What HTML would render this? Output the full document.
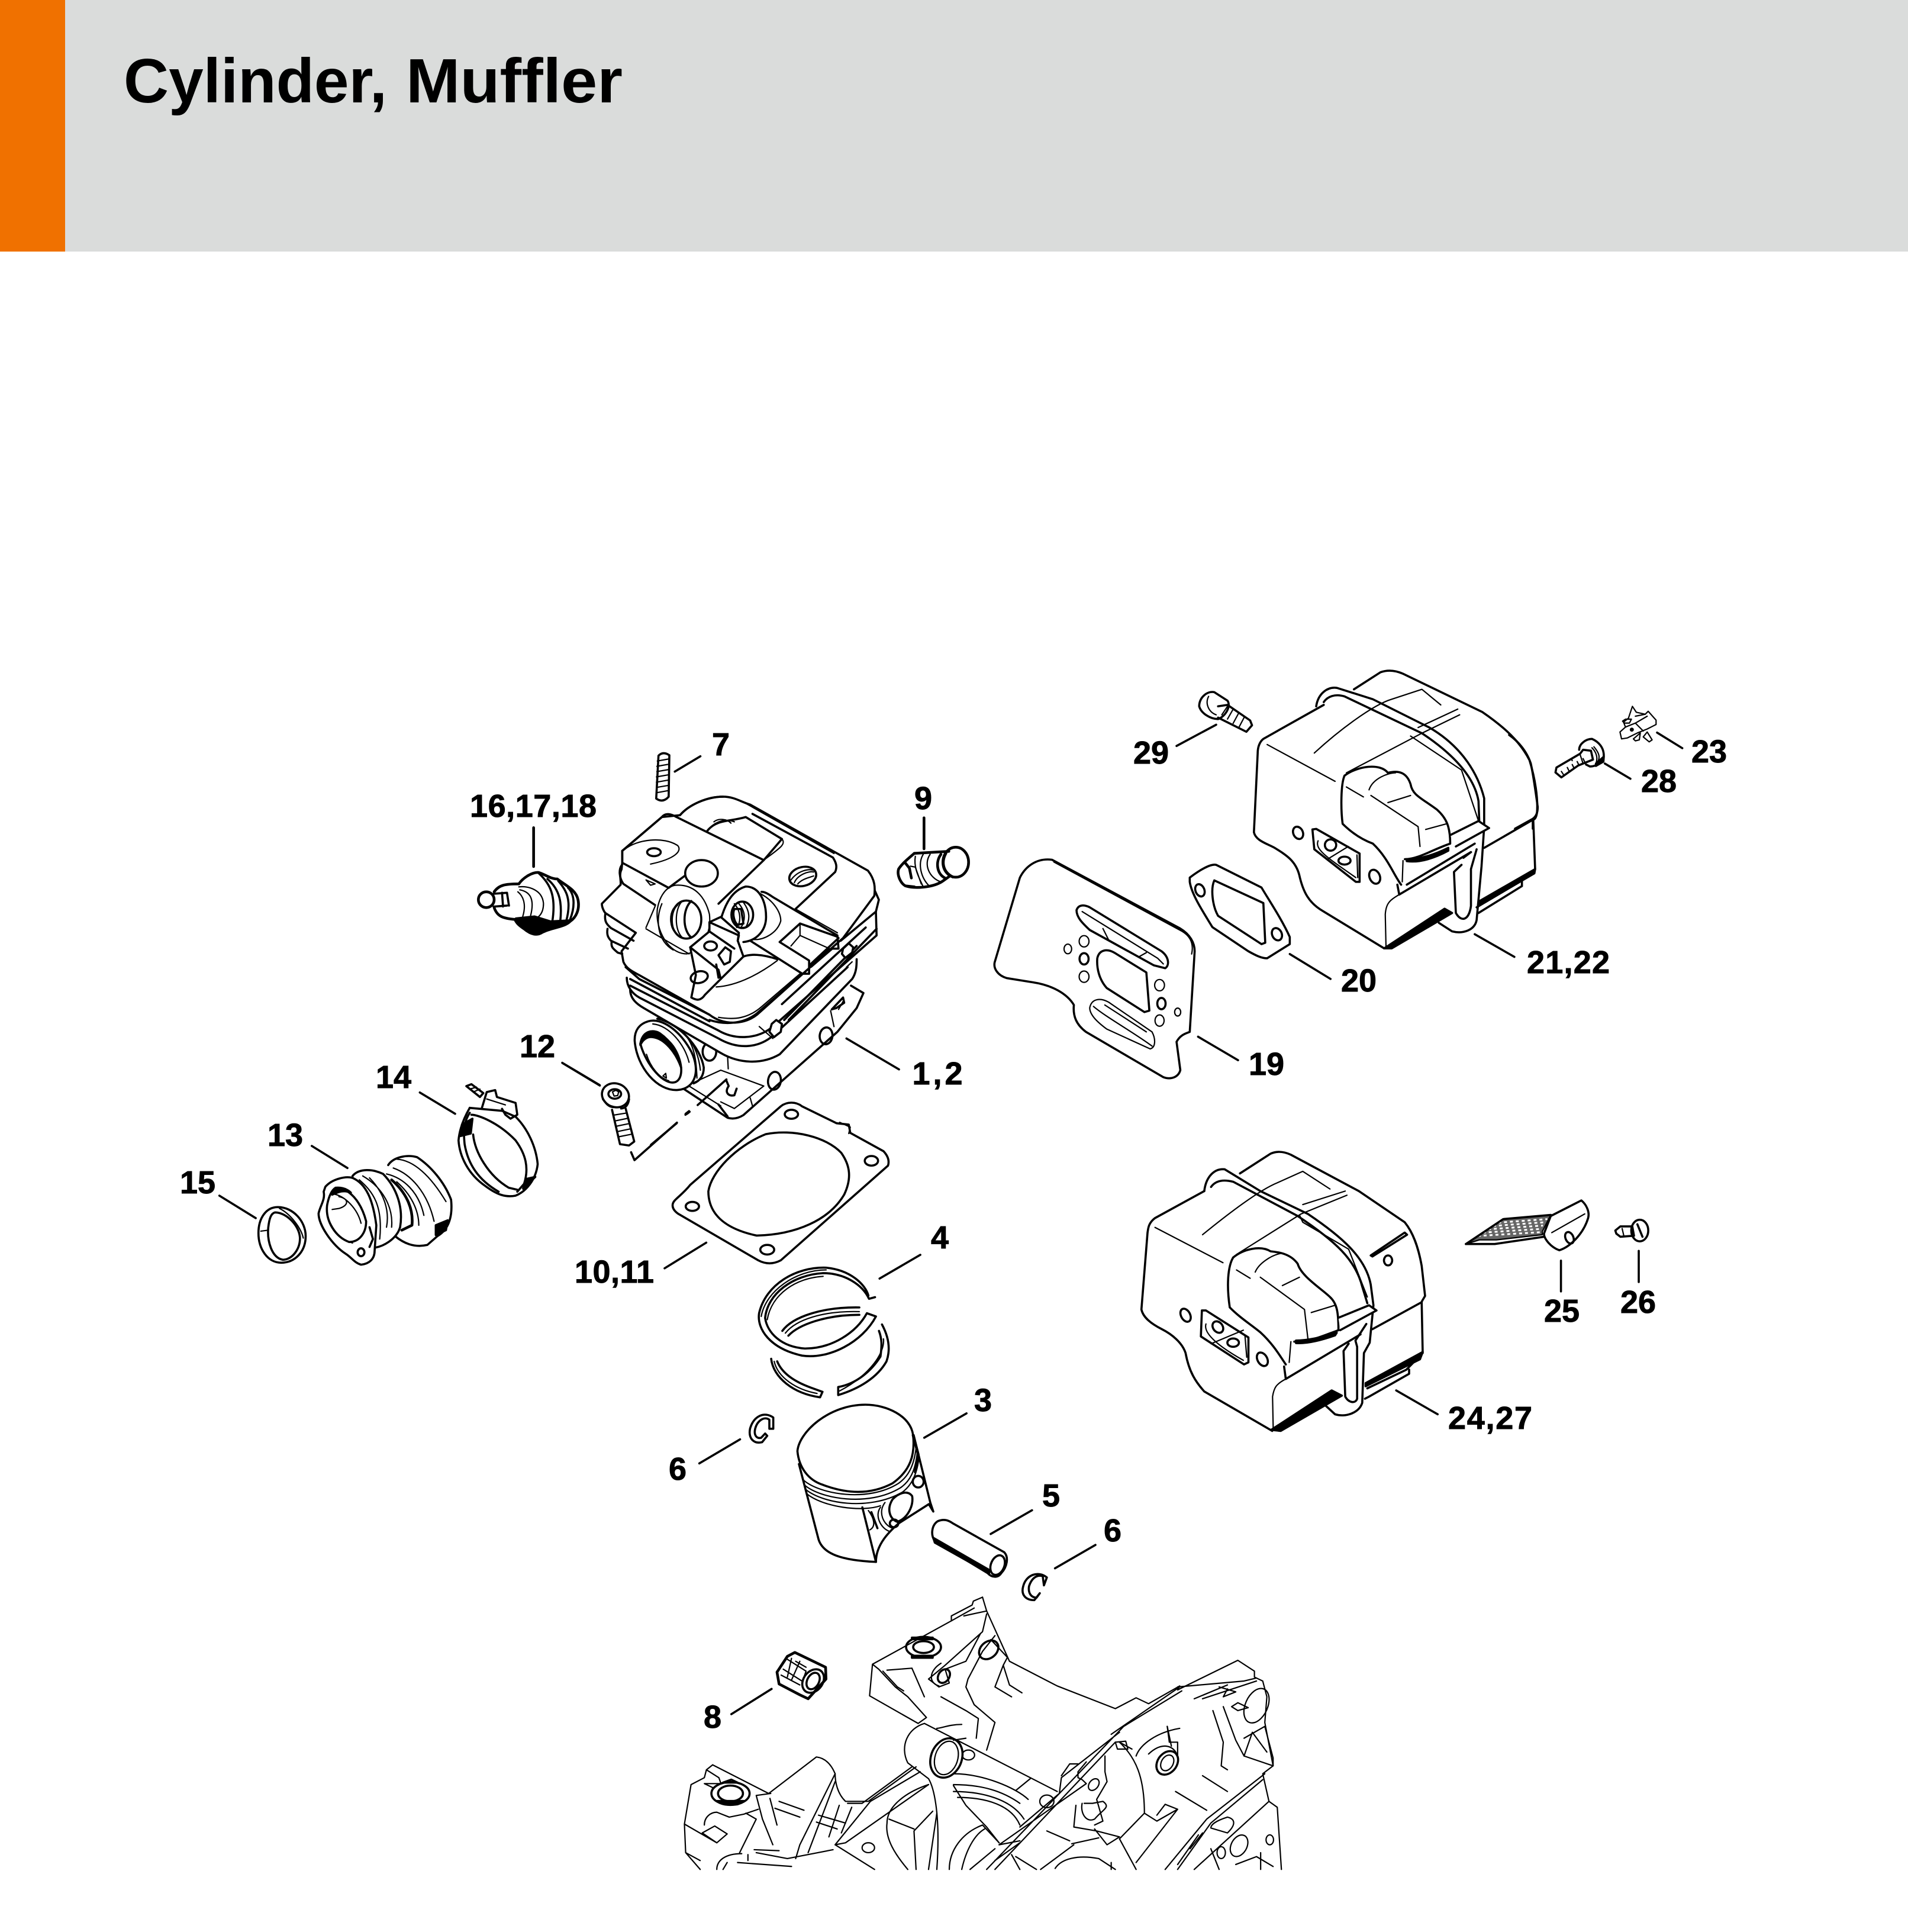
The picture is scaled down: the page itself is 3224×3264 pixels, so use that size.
<!DOCTYPE html>
<html><head><meta charset="utf-8"><title>Cylinder, Muffler</title>
<style>
html,body{margin:0;padding:0;background:#fff}
svg{display:block}
.d *{vector-effect:non-scaling-stroke;fill:none;stroke:#000;stroke-width:3.6;stroke-linejoin:round;stroke-linecap:round}
.d .t{stroke-width:2.2}
.d .b{stroke-width:4.6}
.d .w{fill:#fff}
.d .f{fill:#000}
.d .g{fill:#666;stroke-width:2.2}
.d .m{stroke:#fff;stroke-width:3;stroke-dasharray:5 5;stroke-linecap:butt}
.l text{font-family:"Liberation Sans",sans-serif;font-weight:700;font-size:54px;fill:#000;stroke:#000;stroke-width:.9;text-anchor:middle}
</style></head><body>
<svg width="3224" height="3264" viewBox="0 0 3224 3264" xmlns="http://www.w3.org/2000/svg">
<rect width="3224" height="3264" fill="#fff"/>
<rect width="3224" height="425" fill="#dadcdb"/>
<rect width="110" height="425" fill="#f07100"/>
<text x="209" y="173" font-family="Liberation Sans,sans-serif" font-weight="700" font-size="106" textLength="445" lengthAdjust="spacingAndGlyphs" fill="#000">Cylinder,</text>
<text x="686" y="173" font-family="Liberation Sans,sans-serif" font-weight="700" font-size="106" textLength="366" lengthAdjust="spacingAndGlyphs" fill="#000">Muffler</text>

<g class="l">
<text x="1218" y="1276">7</text>
<text x="901" y="1380" textLength="214">16,17,18</text>
<text x="1560" y="1367">9</text>
<text x="2888" y="1288">23</text>
<text x="2803" y="1338">28</text>
<text x="1945" y="1290">29</text>
<text x="2296" y="1675">20</text>
<text x="2650" y="1644" textLength="140">21,22</text>
<text x="2140" y="1816">19</text>
<text x="1584" y="1832" textLength="85">1,2</text>
<text x="908" y="1786">12</text>
<text x="665" y="1838">14</text>
<text x="482" y="1936">13</text>
<text x="334" y="2016">15</text>
<text x="1038" y="2167" textLength="134">10,11</text>
<text x="1588" y="2109">4</text>
<text x="1661" y="2384">3</text>
<text x="1145" y="2500">6</text>
<text x="1776" y="2545">5</text>
<text x="1880" y="2604">6</text>
<text x="1204" y="2919">8</text>
<text x="2639" y="2233">25</text>
<text x="2768" y="2218">26</text>
<text x="2518" y="2414" textLength="142">24,27</text>
</g>

<!-- Cylinder -->
<g class="d" transform="translate(950,1250) scale(.3827,.4464)">
<path d="M497 120L610 62M1255 1130L1487 1247M0 1222L165 1306"/>
<path d="M425 60Q445 42 473 58L470 215Q445 240 415 222Z"/>
<path class="t" d="M420 80L472 72M418 100L472 92M418 120L472 112M416 140L470 132M416 160L470 152M416 180L470 172M416 200L468 192"/>
<!-- flange -->
<path d="M535 1320L730 1430C760 1438 785 1428 800 1420L1215 1105L1300 1015L1330 958L1275 930"/>
<path class="t" d="M560 1305L700 1250L890 1310L760 1395L700 1370M830 1355L840 1385M730 1195L733 1245M1185 1025L1200 1085M1220 1020L1240 990M560 1310L700 1385"/>
<path d="M725 1290L735 1310C715 1335 735 1350 760 1345L770 1320M690 1380L730 1425"/>
<ellipse cx="937" cy="1290" rx="28" ry="34" transform="rotate(15 937 1290)"/>
<ellipse cx="1165" cy="1120" rx="28" ry="32" transform="rotate(15 1165 1120)"/>
<ellipse cx="650" cy="1180" rx="30" ry="34"/>
<ellipse cx="940" cy="1095" rx="27" ry="33" transform="rotate(15 940 1095)"/>
<path d="M1190 1020L1240 975L1245 995L1210 1015Z"/>
<!-- intake -->
<path d="M420 1055C510 1070 610 1160 625 1240C625 1270 610 1290 580 1300"/>
<path class="t" d="M480 1075C560 1110 600 1170 610 1250M500 1080C570 1130 590 1170 595 1280"/>
<path class="w" d="M380 1065C440 1050 520 1100 570 1180C610 1250 590 1320 510 1325C420 1330 330 1240 320 1140C318 1100 340 1075 380 1065Z"/>
<path d="M345 1150C360 1100 440 1100 490 1160C530 1210 540 1280 500 1295C450 1310 370 1230 345 1150Z"/>
<path class="f" d="M345 1150C355 1100 400 1095 430 1110C480 1140 510 1180 525 1240C500 1180 450 1130 400 1125C375 1122 355 1135 345 1155Z"/>
<path class="t" d="M372 1190C390 1240 430 1280 470 1290M400 1075C470 1080 540 1150 560 1220M445 1272l12 -10l3 18z"/>
<!-- fins lower -->
<path class="w" d="M300 945C300 980 330 1000 360 1015L700 1185C780 1225 880 1230 960 1190L1280 905C1300 880 1300 850 1300 830"/>
<path class="w" d="M285 900C285 935 310 960 340 975L690 1130C770 1170 860 1170 930 1120L1260 860"/>
<path d="M300 930L690 1100C760 1135 860 1135 930 1085L1388 740L1385 650L1398 605L1380 570"/>
<path d="M1388 715L1000 1060M1385 650L1230 760M1340 710L970 1000M1300 780L980 1060"/>
<path class="t" d="M1210 725L1225 760M870 1085L930 1130M1255 860L1280 840"/>
<path class="w" d="M945 1060L970 1075L965 1105L935 1125L915 1105L925 1075Z"/>
<!-- main lower plate -->
<path class="w" d="M262 800L270 840C285 870 320 880 350 895L650 1040C720 1085 810 1075 860 1040L1200 780L1240 750L1378 590C1382 560 1382 530 1350 495L830 245C790 235 760 215 710 215C640 215 560 245 520 285L440 292L265 420L265 465L262 490C250 510 260 530 258 548L175 620C175 635 185 650 190 655L325 730L262 800Z"/>
<path d="M190 660C185 690 200 700 215 712L315 760M200 715C195 740 205 750 215 760L290 790M218 765C215 785 225 790 245 805L265 810"/>
<path d="M280 860L340 905L650 1040M300 905L650 1065"/>
<path d="M265 420L440 292C455 275 480 280 500 290L630 345L890 455L690 620M640 345C680 300 740 310 810 292L970 375L890 455"/>
<path d="M520 285C560 245 640 215 710 215"/>
<path class="t" d="M830 245L1340 490M810 240L1200 430"/>
<path d="M1030 640L1205 500C1215 480 1210 465 1195 445L840 280"/>
<path class="t" d="M1030 640L1215 730M970 375C990 395 960 410 890 455"/>
<path d="M265 420L265 465L470 560L540 515"/>
<path class="t" d="M275 415C330 375 450 365 510 400C530 420 500 450 390 470"/>
<ellipse cx="405" cy="425" rx="30" ry="15"/>
<path d="M262 475C250 490 250 520 270 545L410 625"/>
<path class="t" d="M370 530L410 545L390 550Z"/>
<ellipse class="w" cx="615" cy="505" rx="72" ry="50"/>
<path class="t" d="M640 345C680 300 730 300 760 310M670 310C690 295 730 300 745 315"/>
<!-- bosses -->
<path class="t" d="M420 640C410 720 470 810 550 810C610 800 660 740 650 660C630 590 580 545 500 550C460 555 430 590 420 640Z"/>
<path class="t" d="M440 620C410 680 420 760 490 795M370 710L410 630M370 715L560 810"/>
<ellipse cx="548" cy="680" rx="66" ry="72" stroke-width="4"/>
<path class="t" d="M530 610C495 640 495 720 530 748M510 625C475 650 480 720 510 740M490 640C470 670 480 710 495 725"/>
<path d="M570 610C530 640 530 720 570 748"/>
<path d="M700 680C720 620 750 570 810 555C870 555 900 610 900 670C900 720 860 760 800 765"/>
<path class="t" d="M870 580C930 605 965 650 965 685C950 730 890 760 840 755"/>
<ellipse cx="795" cy="662" rx="48" ry="50"/>
<path class="t" d="M760 620C790 650 790 690 770 710M780 620C810 650 810 680 790 710M800 615C830 650 830 680 810 710"/>
<path d="M760 640C750 660 760 690 775 700L800 695L790 640Z"/>
<path d="M880 575C900 575 920 590 940 600L1215 740L1220 790L1195 790M960 765L1050 695L1215 745M1095 850L1220 750M960 765L1090 835L1090 885L1060 885L830 760"/>
<path class="t" d="M1010 780L1050 740L1180 790L1090 860M1050 695L1050 740"/>
<!-- centre bracket -->
<path class="w" d="M650 690L700 670L780 730L775 760L800 820L700 905L630 965C610 990 590 985 570 975L590 890L565 785L650 725Z"/>
<path d="M650 690L780 740L775 760M650 725L760 790M565 785L690 870L700 905"/>
<path d="M680 850L690 900M800 820C830 810 880 810 950 830"/>
<path class="t" d="M680 935C780 930 880 880 950 835"/>
<ellipse cx="655" cy="780" rx="28" ry="17"/>
<path d="M690 815L720 785L745 800L740 840L715 850Z"/>
<ellipse cx="605" cy="898" rx="38" ry="22" transform="rotate(-10 605 898)"/>
<ellipse cx="1062" cy="517" rx="60" ry="36" transform="rotate(-10 1062 517)"/>
<path class="t" d="M1025 540C1040 510 1090 495 1110 500M1040 545C1060 525 1095 520 1110 515M1010 530C1040 495 1090 485 1115 495"/>
<path class="w" d="M1240 790L1265 770L1285 785L1280 805L1250 825L1235 810Z"/>
<path d="M1060 885L860 1035C800 1075 720 1080 650 1060"/>
<path class="t" d="M1050 885L880 1010C820 1055 760 1060 690 1050M1195 790L1100 860"/>
<!-- bolt 12 -->
<ellipse cx="235" cy="1345" rx="60" ry="45" transform="rotate(10 235 1345)"/>
<path d="M225 1390C200 1388 190 1370 180 1360M295 1360C290 1390 270 1395 260 1395"/>
<ellipse cx="232" cy="1340" rx="28" ry="18"/>
<path class="t" d="M222 1332l15 -6l12 6l-4 14l-16 2z"/>
<path d="M220 1400L255 1530L295 1535L318 1520L280 1395"/>
<path class="t" d="M228 1420L285 1412M234 1442L290 1432M240 1462L296 1452M246 1482L302 1472M250 1502L308 1492"/>
<!-- dash line -->
<path d="M598 1382L725 1285M545 1415L560 1405"/>
</g>

<!-- Spark plug -->
<g class="d" transform="translate(760,1300) scale(.3333)">
<path class="b" d="M425 295L425 492"/>
<circle cx="185" cy="660" r="40" class="b"/>
<path d="M222 630L290 625M222 695L290 690M265 625L270 695M290 625L300 690"/>
<path class="b" d="M225 620C250 585 280 580 350 580M225 700C240 745 270 755 330 760"/>
<path class="b" d="M350 580C375 545 420 520 450 522C480 530 510 555 545 555C590 590 640 610 650 660C660 710 640 750 610 770C580 800 520 800 470 825C440 845 410 835 380 810C350 790 340 780 330 760"/>
<path class="f" d="M335 755L430 745L510 770L610 765L590 785L530 800L470 825C440 842 410 835 380 810Z"/>
<path class="t" d="M350 595C400 590 470 610 475 680C475 730 450 755 420 760M355 610C410 620 430 660 410 740M345 620C370 640 390 680 370 745"/>
<path d="M450 525C510 580 540 640 520 770M495 555C560 610 570 680 560 770M550 565C590 610 620 660 590 770M600 600C640 640 630 710 610 760"/>
</g>

<!-- Plug 9 -->
<g class="d" transform="translate(1480,1280) scale(.3333)">
<path class="b" d="M244 305L244 462"/>
<ellipse cx="405" cy="530" rx="65" ry="76" class="b"/>
<path class="b" d="M195 485L370 475M150 650C190 665 290 660 340 625L375 600"/>
<path class="b" d="M195 485C160 515 130 540 115 565C105 600 130 640 150 650L195 655"/>
<path class="b" d="M150 535L170 560L180 610"/>
<path class="t" d="M175 550L200 555L230 640M200 500C190 560 220 610 240 655M240 490C210 540 230 610 270 650M275 490C240 540 270 610 330 630"/>
<path class="b" d="M330 490C300 530 310 590 350 610M355 485C330 530 340 580 390 605"/>
</g>

<!-- Muffler top -->
<g class="d" transform="translate(1650,1100) scale(.6378,.4783)">
<path d="M530 335L635 260M830 1070L938 1158M1320 1000L1425 1080M587 1362L693 1445"/>
<!-- bolt 29 -->
<path d="M590 195C590 165 610 140 630 145L665 175C675 195 660 230 640 240C620 240 595 220 590 195Z"/>
<path d="M640 195L665 190L725 245L730 262L715 285L640 235"/>
<path class="t" d="M615 160C605 185 615 215 635 225M665 195L650 225M680 205L665 240M695 218L680 255M710 232L695 270"/>
<!-- body -->
<path d="M1000 135L1070 75C1090 65 1110 68 1130 80L1340 215C1400 270 1440 320 1465 385C1480 450 1488 520 1485 570C1483 590 1478 595 1475 595L1345 695"/>
<path d="M1475 595L1480 770L1445 810L1325 905"/>
<path class="f" d="M1480 770L1478 785L1330 900L1330 885Z"/>
<path d="M1445 830L1330 925M1445 810L1445 830"/>
<path d="M920 190L760 310C750 320 745 340 745 360L735 640C740 670 770 680 790 695C820 720 845 740 855 790C865 850 880 890 920 920L1080 1050"/>
<path class="f" d="M1080 1050L1240 910L1260 925L1100 1050Z"/>
<path class="t" d="M1085 1050L1083 930C1085 890 1095 880 1120 860"/>
<path d="M1115 825L1120 860L1310 710"/>
<path d="M900 195C905 150 930 125 955 130L1050 170L1200 270C1290 340 1330 440 1345 520L1345 620L1338 760L1325 950C1320 985 1290 1000 1260 990L1225 960"/>
<path d="M920 180C930 160 950 150 975 160L1180 290C1270 370 1320 450 1330 530L1332 600M1325 700L1310 770L1310 900C1305 950 1285 960 1270 925L1265 780L1285 755"/>
<path class="t" d="M895 360C960 280 1050 190 1100 170L1180 135L1230 190M1170 270L1275 205M980 430L1180 290L1280 225M1150 300L1285 420L1330 600M770 330L950 460M980 480L1025 515"/>
<path d="M1290 730L1310 710"/>
<path d="M975 440C1010 405 1070 395 1090 430C1120 420 1140 430 1150 470C1155 510 1180 520 1220 560C1245 590 1255 620 1255 680C1210 700 1170 735 1135 735"/>
<path d="M975 440C965 470 965 560 970 610C1000 650 1030 670 1050 680C1090 730 1105 790 1125 825"/>
<path class="t" d="M1040 490C1050 450 1090 430 1110 430M1045 510L1170 620L1175 690M1090 535L1150 510M1190 630L1245 610M1130 740L1128 815"/>
<path class="f" d="M1140 735C1180 735 1220 715 1250 695L1250 705C1215 730 1175 748 1140 742Z"/>
<path d="M1140 825L1320 680"/>
<path class="w" d="M1255 650L1330 600L1358 625L1270 690"/>
<path d="M890 630L900 628L1015 715L1015 815L1005 815L895 700Z"/>
<path class="t" d="M905 670C895 700 930 730 1005 800M930 735L985 690M1008 720L1010 800"/>
<ellipse cx="938" cy="685" rx="15" ry="20"/>
<ellipse cx="975" cy="740" rx="16" ry="14"/>
<ellipse cx="852" cy="642" rx="13" ry="22" transform="rotate(-12 852 642)"/>
<ellipse cx="1055" cy="797" rx="14" ry="25" transform="rotate(-12 1055 797)"/>
<!-- gasket 20 -->
<path d="M565 800C590 775 620 750 635 755L755 835C775 880 810 950 830 1010L830 1035L770 1085C755 1085 740 1075 720 1060L625 975C600 920 570 860 565 815Z"/>
<path d="M630 810L760 890L765 1030L755 1035L640 935C625 900 620 840 630 810Z"/>
<ellipse cx="592" cy="845" rx="12" ry="22" transform="rotate(-12 592 845)"/>
<ellipse cx="796" cy="1000" rx="13" ry="22" transform="rotate(-12 796 1000)"/>
<!-- plate 19 -->
<path d="M115 800C130 760 160 730 200 737L540 980C565 1000 578 1030 578 1060L565 1345C555 1350 540 1355 530 1380L540 1480C535 1505 515 1515 495 1505L290 1345C265 1320 255 1290 258 1250C240 1210 200 1180 150 1170L80 1155C55 1145 45 1120 48 1100Z"/>
<path class="t" d="M205 745L545 990C570 1010 575 1040 570 1070"/>
<path d="M265 915C270 895 285 895 300 905L490 1060C510 1080 512 1110 500 1120L470 1110L300 985C280 960 265 940 265 915Z"/>
<path class="t" d="M280 920L480 1085L495 1105M335 980L350 1020L430 1080L450 1065"/>
<path class="t" d="M300 1260C305 1225 330 1225 350 1240L465 1345C475 1370 475 1400 460 1405L345 1335C320 1310 300 1285 300 1260Z"/>
<path class="t" d="M310 1255C340 1290 420 1350 465 1395M340 1250L450 1345"/>
<path d="M320 1085C325 1055 345 1050 365 1065L450 1135L458 1270L445 1275L345 1190C325 1160 318 1120 320 1085Z"/>
<ellipse class="t" cx="285" cy="1025" rx="13" ry="20"/>
<ellipse cx="285" cy="1087" rx="12" ry="20" stroke-width="4"/>
<ellipse class="t" cx="285" cy="1150" rx="13" ry="20"/>
<ellipse class="t" cx="242" cy="1052" rx="10" ry="17"/>
<ellipse class="t" cx="485" cy="1180" rx="13" ry="20"/>
<ellipse cx="490" cy="1245" rx="11" ry="20" stroke-width="4"/>
<ellipse class="t" cx="485" cy="1305" rx="12" ry="20"/>
<ellipse class="t" cx="533" cy="1275" rx="8" ry="14"/>
</g>

<!-- Bolt 28, clip 23 -->
<g class="d" transform="translate(2550,1150) scale(.3333)">
<path d="M0 275C50 310 90 360 110 420C125 490 135 570 145 640C145 670 135 690 120 700L30 750M120 700L120 750"/>
<path d="M485 420L615 497M750 263L878 342"/>
<path d="M240 440L360 370L375 350L415 355L425 400L350 430L265 490L235 465Z"/>
<path d="M355 350C355 320 390 295 420 295C455 310 480 340 480 380C480 410 440 435 410 435L390 425"/>
<path class="t" d="M420 340C445 365 450 395 440 420M430 335C460 370 460 390 450 410M360 375L375 420"/>
<path class="f" d="M440 420L480 385L478 410L440 432Z"/>
<path class="t" d="M265 460L275 475M295 440L305 460M320 425L330 445M345 410L355 430M375 395L385 415M315 395L320 405"/>
<!-- clip 23 -->
<path class="t" d="M605 190L625 130L645 160L690 170L705 155L745 200L745 222L700 245L650 265L600 290L570 295L562 260L590 235L580 210Z"/>
<path class="t" d="M590 235L640 215L680 255M640 215L700 180M640 180L690 170M590 195L620 195L610 215L585 215L575 205Z"/>
<path class="t" d="M630 295L665 265L660 300L640 305ZM680 285L700 260L725 300L710 310Z"/>
<circle cx="622" cy="248" r="5"/>
</g>

<!-- Intake parts -->
<g class="d" transform="translate(280,1720) scale(.574,.3333)">
<path d="M158 900L265 1014M430 648L535 760M748 377L852 485M1168 228L1278 342"/>
<path d="M1370 680L1380 720L1505 530M1530 490L1538 480"/>
<!-- 15 -->
<path d="M330 958C375 958 412 1030 412 1105C412 1185 380 1240 340 1240C300 1240 273 1170 273 1090C273 1015 295 958 330 958Z"/>
<path d="M322 985C355 985 392 1050 395 1110C397 1170 372 1225 345 1225C312 1215 298 1130 302 1060C305 1015 310 990 322 985Z"/>
<path class="t" d="M335 965C365 990 398 1060 405 1115M280 1080L302 1075"/>
<!-- 13 -->
<path class="w" d="M655 745C670 705 710 690 740 705C780 750 820 830 840 920C845 1000 835 1070 800 1105L770 1150C730 1165 700 1140 675 1105"/>
<path class="t" d="M680 715C730 720 780 800 825 930M670 760C720 790 770 880 790 1030M650 790C700 810 745 880 760 1000"/>
<path class="f" d="M795 1050L830 1025L825 1075L795 1100Z"/>
<path class="w" d="M550 800C570 760 610 765 640 790C680 860 700 960 690 1060C680 1120 640 1160 610 1165L540 1100Z"/>
<path class="t" d="M580 800C640 860 670 960 665 1060M600 810C640 880 660 970 650 1060M570 820C610 880 640 950 630 1120"/>
<path class="b" d="M665 820C705 880 730 960 725 1050L695 1075"/>
<path class="t" d="M680 830C720 890 745 970 745 1050"/>
<path class="w" d="M470 855C490 815 530 800 550 810C590 840 610 920 620 1050L615 1180C615 1220 600 1245 575 1250C555 1240 545 1210 530 1195C490 1150 450 1050 450 990C455 950 470 920 465 880Z"/>
<path d="M500 860C540 860 575 930 590 1030C590 1090 570 1135 540 1135C500 1110 470 1030 475 950C480 900 490 870 500 860Z"/>
<path class="t" d="M490 890C530 900 565 970 575 1040M510 905C540 915 540 950 510 965L490 970M475 1000C490 1070 510 1120 550 1140"/>
<path class="f" d="M500 860C530 855 545 885 545 885C525 870 510 880 490 895Z"/>
<ellipse cx="575" cy="1187" rx="10" ry="20"/>
<path d="M600 1060L610 1120L600 1160"/>
<!-- 14 -->
<path d="M895 455C880 500 865 560 862 620C865 700 890 790 940 850C975 895 1000 910 1030 900C1060 880 1090 820 1095 740C1090 650 1065 560 1030 500"/>
<path d="M895 480C880 520 875 560 880 640C890 740 920 820 980 880"/>
<path d="M900 490C920 490 980 530 1030 620C1060 690 1070 760 1055 840L1035 880M905 590C910 680 950 800 1010 860L1035 870"/>
<path class="f" d="M872 540L903 510L898 585L868 598Z"/>
<path class="f" d="M1062 815L1088 805L1052 865Z"/>
<path d="M895 455L990 470L1030 500M930 460L945 375L970 365L975 400L1030 430L1035 490L1015 510L1000 490L990 460"/>
<path d="M885 345L900 335L935 380L925 400Z"/>
<path class="t" d="M895 360L915 350M905 375L925 360M945 410L1000 440"/>
</g>

<!-- Piston area -->
<g class="d" transform="translate(1100,1850) scale(.5102,.5421)">
<path d="M0 155L85 88M120 58L128 52M45 540L183 460M757 572L892 498M905 1068L1045 992M160 1148L295 1073M1125 1368L1262 1294M1338 1475L1472 1402"/>
<!-- gasket -->
<path d="M72 340C75 325 100 315 130 280L430 35C450 20 480 20 500 35L615 88L655 92L660 118L770 175C785 190 790 205 785 220L430 515C400 530 375 525 355 515L90 370C75 360 70 350 72 340Z"/>
<path class="t" d="M625 85L660 100L655 120"/>
<path d="M190 300C200 240 280 160 380 122C470 105 580 130 630 180C660 220 665 260 640 310C590 390 480 435 350 438C260 420 190 380 190 300Z"/>
<ellipse cx="465" cy="60" rx="22" ry="14"/>
<ellipse cx="730" cy="205" rx="22" ry="15"/>
<ellipse cx="137" cy="347" rx="22" ry="14"/>
<ellipse cx="385" cy="482" rx="23" ry="15"/>
<!-- rings -->
<path d="M720 625C710 590 660 545 580 538C480 535 380 590 358 680C350 730 395 790 500 812C590 825 700 770 745 690L715 680C680 740 600 790 510 790C430 785 385 740 378 695C385 620 470 560 570 555C640 555 700 590 722 635L742 630"/>
<path class="t" d="M365 690C380 610 480 545 580 545M385 700C400 620 480 570 570 565"/>
<path d="M435 735C470 690 570 660 690 662M455 750C490 715 580 685 690 685"/>
<path class="t" d="M445 742C480 700 570 672 690 675"/>
<path d="M765 715C785 750 795 790 780 830C750 880 690 915 620 935L620 910C680 900 730 860 760 815C765 780 765 760 755 735"/>
<path d="M398 822C405 880 470 930 560 942L568 925L530 912C480 895 435 870 418 830"/>
<path class="t" d="M408 830C420 880 480 918 550 930M770 760C775 800 730 870 625 922"/>
<!-- clip left -->
<path d="M405 1040L405 1005C375 985 340 1000 328 1040C322 1070 340 1088 368 1082L385 1062L378 1055L365 1068C350 1072 340 1060 345 1040C352 1015 375 1000 392 1012L392 1040Z"/>
<!-- piston -->
<path d="M485 1110C490 1050 590 965 710 965C780 965 860 1000 868 1060C875 1120 860 1170 800 1210C720 1250 640 1240 570 1215C520 1200 490 1160 485 1110Z"/>
<path class="t" d="M505 1200C560 1245 720 1270 820 1210C850 1190 870 1160 878 1100M508 1215C560 1258 720 1285 826 1224C858 1204 876 1170 882 1112M511 1228C565 1272 720 1298 832 1238C864 1216 882 1180 888 1125M515 1242C570 1285 700 1300 760 1280"/>
<path d="M490 1150L555 1385C570 1430 630 1450 745 1455"/>
<path d="M870 1060L925 1270L935 1298L920 1275L820 1335"/>
<path class="b" d="M868 1060L885 1120L875 1175"/>
<path d="M700 1285L745 1455M745 1455C745 1400 790 1360 820 1335"/>
<path d="M730 1300L750 1350M800 1260C780 1290 790 1320 815 1330C850 1320 870 1280 865 1250C850 1230 820 1240 800 1260Z"/>
<path class="t" d="M775 1270C750 1300 770 1340 800 1350M760 1285C740 1310 760 1350 790 1360M720 1295C740 1320 745 1345 725 1355"/>
<ellipse cx="885" cy="1205" rx="18" ry="18"/>
<ellipse cx="805" cy="1335" rx="14" ry="12"/>
<!-- pin -->
<path d="M950 1328C970 1320 985 1325 1000 1335L1170 1425C1185 1440 1180 1470 1160 1490C1150 1505 1130 1505 1115 1490L940 1390C925 1370 930 1340 950 1328Z"/>
<path class="f" d="M935 1380L1120 1480L1120 1490L940 1395Z"/>
<ellipse cx="1148" cy="1465" rx="22" ry="32" transform="rotate(25 1148 1465)"/>
</g>

<!-- Muffler lower + 25/26 -->
<g class="d" transform="translate(1900,1900) scale(.574,.3508)">
<path d="M800 1280L922 1395M1285 655L1285 803M1514 608L1514 758"/>
<path d="M340 235L430 140C450 125 470 130 490 145L690 320L825 470C850 520 865 590 875 680L885 825C880 840 875 850 875 855L730 985"/>
<path d="M875 855L878 1100L830 1180L715 1270"/>
<path class="f" d="M878 1095L870 1130L710 1260L710 1245Z"/>
<path d="M838 1180L838 1200L720 1310L708 1320"/>
<path d="M235 320L90 450C70 475 70 500 68 520L50 890C55 930 80 960 110 985C140 1010 170 1050 180 1100C190 1190 210 1240 235 1285L435 1475"/>
<path class="f" d="M432 1470L610 1280L640 1305L460 1475Z"/>
<path class="t" d="M438 1470L436 1310C440 1270 445 1250 475 1225"/>
<path d="M470 1165L475 1225L695 1010"/>
<path d="M235 320C240 250 265 210 295 215L400 320L540 430C640 540 710 640 725 770L733 870L722 1050L705 1100L700 1340C690 1390 650 1410 620 1395L590 1350"/>
<path d="M255 300C270 265 295 265 320 275L510 440C620 560 680 650 700 780L715 860M712 960L680 1040L685 1070L685 1320C680 1345 660 1340 650 1310L645 1090L660 1055"/>
<path class="t" d="M230 530C290 450 390 320 450 280L525 225L605 310M525 385L650 320M330 625L520 430L655 340M515 435L525 470L660 600L715 830M90 495L290 665M330 700L370 740"/>
<path d="M725 630L825 520L832 530L730 635ZM776 630a12 24 0 1 0 .1 0"/>
<path d="M320 640C350 600 400 580 430 610C460 615 490 625 510 670C520 730 580 790 605 830C625 860 630 900 630 990C580 1020 540 1050 500 1045"/>
<path d="M320 640C305 680 300 770 310 880C340 930 370 960 400 1000C440 1060 460 1120 475 1155"/>
<path class="t" d="M385 710C395 670 430 630 460 620M400 735L530 890L540 1030M465 775L515 735M550 905L620 870M490 1045L485 1145"/>
<path class="f" d="M505 1040C545 1040 590 1020 625 1002L620 1015C585 1035 540 1056 505 1052Z"/>
<path class="w" d="M630 930L720 870L742 895L635 990"/>
<path d="M228 895L240 895L365 1025L365 1145L352 1155L225 1020Z"/>
<path class="t" d="M240 960C230 1010 290 1080 350 1135M255 1055L350 990M355 1020L360 1120"/>
<ellipse cx="275" cy="975" rx="15" ry="28" transform="rotate(-12 275 975)"/>
<ellipse cx="320" cy="1050" rx="17" ry="20"/>
<ellipse cx="180" cy="918" rx="14" ry="32" transform="rotate(-12 180 918)"/>
<ellipse cx="406" cy="1130" rx="15" ry="33" transform="rotate(-12 406 1130)"/>
<!-- 25 -->
<path class="w" d="M1345 365L1255 440L1235 525C1235 550 1255 590 1280 605C1310 590 1350 530 1365 450C1370 420 1360 385 1345 365Z"/>
<path class="t" d="M1258 520L1355 430"/>
<ellipse cx="1310" cy="545" rx="12" ry="28" transform="rotate(-10 1310 545)"/>
<path class="g" d="M1115 455L1255 435L1230 515L1230 530L1095 555L1045 555L1005 575Z"/>
<path class="m" d="M1100 472L1245 455M1085 488L1238 470M1070 504L1232 486M1055 520L1228 502M1040 536L1225 518"/>
<path d="M1005 575L1115 455L1255 435M1005 575L1090 575L1235 540"/>
<!-- 26 -->
<path d="M1445 510L1460 490L1495 490L1500 535L1460 540L1448 525Z"/>
<path class="t" d="M1465 500L1470 535"/>
<ellipse cx="1517" cy="510" rx="25" ry="52" stroke-width="4"/>
<path d="M1510 480L1525 540"/>
</g>

<!-- Bearing 8 + crankcase -->
<g class="d" transform="translate(1120,2650) scale(.7015,.3333)">
<path d="M165 738L262 610"/>
<path class="b" d="M318 425L392 500L393 560L350 660L330 640L280 585L275 525L300 445Z"/>
<ellipse cx="362" cy="570" rx="25" ry="60" transform="rotate(8 362 570)" stroke-width="4"/>
<ellipse cx="362" cy="570" rx="15" ry="42" transform="rotate(8 362 570)"/>
<path class="t" d="M300 460L345 520L335 580M320 470L345 500M290 510L335 570M285 540L330 590M310 455L300 550M330 470L310 565"/>
<!-- clip right -->
<path d="M918 85L925 45C905 10 875 30 868 90C862 135 875 160 895 160L908 125L900 148C885 145 880 120 882 90C888 50 900 30 915 38Z"/>
<!-- crankcase -->
<path class="t" d="M770 145L748 165L745 185L695 240L695 265L505 485L498 645L615 785L635 755L590 650L560 600L520 510L505 485"/>
<path class="t" d="M770 145L780 215L835 470L950 595L1090 710L1140 655L1170 685L1245 595L1240 615L1385 465L1425 520L1425 550L1445 570L1455 650L1450 780L1470 1000L1445 1040L1460 1180L1480 1210L1490 1525"/>
<path class="t" d="M750 200L695 265M725 240L780 215M780 230L770 320L680 490L640 560L665 600L690 580L680 510L730 470L765 330M800 340L770 420L735 560L730 600L750 690L800 780L780 920M790 360L830 450L820 490L835 590L865 630M820 490L800 600L840 650M670 650L730 720L760 760L755 860M670 480C640 520 640 580 665 595M540 515L600 505M600 505L630 650M530 520L565 600L580 620"/>
<ellipse cx="628" cy="398" rx="42" ry="52"/>
<ellipse cx="628" cy="398" rx="25" ry="30"/>
<ellipse cx="785" cy="412" rx="22" ry="48" transform="rotate(10 785 412)"/>
<ellipse cx="677" cy="545" rx="14" ry="35" transform="rotate(8 677 545)"/>
<path class="f" d="M600 350L650 350L650 358L600 358ZM600 442L650 442L650 452L600 452Z"/>
<!-- crank cylinder -->
<path class="t" d="M630 785C590 810 570 900 590 985L640 1065C650 1100 670 1220 660 1525M630 785L950 1130M700 870L730 860M720 790C690 790 670 810 660 810"/>
<ellipse cx="683" cy="960" rx="38" ry="100" transform="rotate(5 683 960)"/>
<ellipse class="t" cx="683" cy="960" rx="28" ry="85" transform="rotate(5 683 960)"/>
<ellipse class="t" cx="736" cy="945" rx="15" ry="25"/>
<path class="t" d="M700 1040C770 1040 850 1110 880 1170M700 1095C770 1095 820 1130 860 1190M700 1130C770 1130 840 1170 870 1270M710 1160C780 1160 840 1200 860 1300M885 1065L850 1125M700 1100L730 1200L780 1310L810 1390"/>
<path class="t" d="M610 1005L495 1180L440 1180C420 1140 415 1080 415 1040C405 990 390 960 370 955L255 1140L120 995M600 1005L480 1190L445 1190M620 1030L500 1180L415 1400L440 1390L640 1095"/>
<ellipse class="t" cx="925" cy="1180" rx="17" ry="32"/>
<!-- lower left -->
<path class="t" d="M120 995L105 1020L100 1060L68 1095L52 1295L55 1440L90 1525M105 1020L135 1060L140 1090L100 1090L120 1110M225 1150L260 1140M225 1150L240 1270L265 1400M258 1165L275 1300M280 1180L340 1225M270 1215L330 1260M375 1250L440 1290M370 1285L420 1320M415 1040L330 1400L320 1470M415 1080L350 1440M425 1200L400 1360M455 1210L430 1340M52 1295L130 1390M130 1390L155 1345L125 1305L95 1340L130 1390M100 1300C100 1260 115 1235 130 1235L160 1260L195 1245L230 1220M200 1240L225 1270L185 1440M55 1440L90 1480M220 1425L280 1430M225 1440L300 1470L410 1425M180 1490L310 1510M205 1450L205 1480M130 1525C130 1480 150 1445 190 1445M155 1490L145 1525"/>
<ellipse cx="163" cy="1140" rx="46" ry="58"/>
<ellipse cx="163" cy="1140" rx="30" ry="40"/>
<path class="f" d="M130 1178L195 1178L180 1195L150 1195Z"/>
<path d="M145 1085L180 1085L165 1070Z"/>
<ellipse class="t" cx="495" cy="1415" rx="15" ry="25"/>
<!-- middle -->
<path class="t" d="M640 1095C590 1130 540 1200 540 1290C535 1370 560 1450 590 1525M545 1270L605 1320M650 1230L605 1330L610 1525M660 1240L640 1525M415 1400L510 1525M690 1525C690 1430 720 1340 770 1300L810 1390M720 1525C730 1430 750 1350 775 1320M740 1525L800 1420M800 1480L860 1390M810 1400L860 1380M860 1525L840 1450"/>
<path class="t" d="M1110 800L780 1525M1090 880L800 1525M1245 600L1080 840M1250 620L1110 800M1100 830L960 1060L955 1140L860 1310M1020 980L1000 1030L1000 1060L1010 1070L1020 1090L810 1400M1000 990L980 990L960 1050M1065 950L1065 1030L1070 1080L1045 1170L1060 1280L1040 1300M1010 1190C1005 1240 1020 1290 1040 1270C1060 1220 1080 1210 1060 1180L1035 1190L1015 1190M995 1200L990 1310L1045 1330L1100 1360L1070 1400L1040 1320M925 1330L980 1380M985 1395L1050 1365M850 1460L900 1525M910 1525L990 1400M945 1520C960 1470 1000 1450 1050 1470L1090 1525M1080 1490L1080 1525M1100 1370L1140 1525"/>
<ellipse class="t" cx="1038" cy="1095" rx="12" ry="30" transform="rotate(10 1038 1095)"/>
<path class="t" d="M1090 880L1115 875L1120 915L1095 915Z"/>
<!-- right -->
<path class="t" d="M1100 880C1140 960 1160 1060 1160 1240L1190 1280L1240 1220L1210 1195L1190 1250M1160 1240L1100 1370M1140 950C1150 890 1190 830 1245 810M1215 800L1220 880L1240 880L1240 950M1240 1220L1140 1490M1300 1050L1360 1130M1235 1130L1310 1225M1450 1040L1310 1270L1210 1525M1445 1070L1320 1290L1240 1525M1460 1180L1280 1525M1240 600L1400 570L1430 555M1280 660L1360 590M1300 660L1430 570M1360 610L1350 650L1380 625L1340 600M1325 720L1350 880L1345 1000L1360 1020M1350 700L1380 870L1400 950M1385 680L1410 705L1385 720L1370 700Z"/>
<ellipse class="t" cx="1430" cy="695" rx="28" ry="88" transform="rotate(8 1430 695)"/>
<path class="t" d="M1400 860L1450 800L1470 960L1470 1000L1400 950L1420 830M1420 830L1455 930"/>
<ellipse cx="1215" cy="985" rx="25" ry="60" transform="rotate(8 1215 985)"/>
<ellipse class="t" cx="1215" cy="985" rx="15" ry="40" transform="rotate(8 1215 985)"/>
<path class="t" d="M1215 800L1225 900M1170 940C1200 880 1230 890 1240 950M1100 880L1130 915M1360 1260C1330 1280 1320 1300 1320 1315L1360 1340C1380 1300 1380 1270 1360 1260ZM1300 1340L1270 1420M1290 1350L1240 1500"/>
<ellipse class="t" cx="1388" cy="1405" rx="20" ry="55" transform="rotate(8 1388 1405)"/>
<ellipse class="t" cx="1345" cy="1440" rx="10" ry="30"/>
<ellipse class="t" cx="1462" cy="1375" rx="9" ry="25"/>
<path class="t" d="M1380 1500L1430 1460L1470 1510M1440 1440L1440 1525M1320 1420L1340 1525"/>
</g>
<rect x="1100" y="3160" width="1100" height="104" fill="#fff"/>
</svg>
</body></html>
